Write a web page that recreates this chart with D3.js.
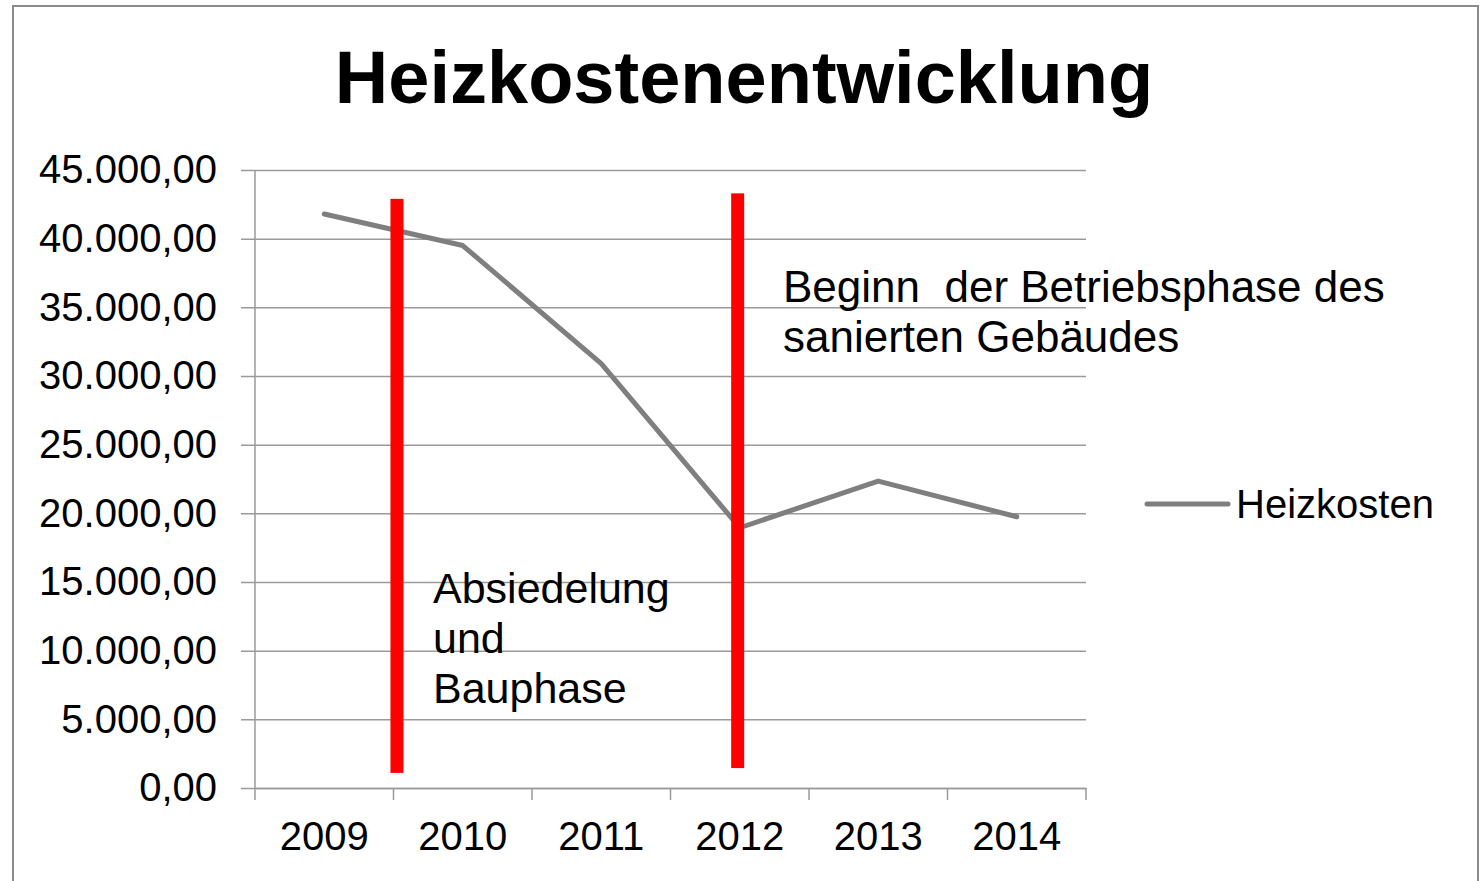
<!DOCTYPE html>
<html>
<head>
<meta charset="utf-8">
<script src="https://cdn.jsdelivr.net/npm/d3@7"></script>
<style>
  body { margin: 0; background: #fff; }
  text { font-family: "Liberation Sans", Arial, sans-serif; fill: #000; }
</style>
</head>
<body>
<svg id="chart" width="1480" height="881"></svg>
<script>
// chart data
const years = ["2009", "2010", "2011", "2012", "2013", "2014"];
const heizkosten = [41800, 39500, 30900, 18950, 22350, 19750];
const yTicks = [0, 5000, 10000, 15000, 20000, 25000, 30000, 35000, 40000, 45000];
const seriesName = "Heizkosten";
const title = "Heizkostenentwicklung";

// red phase markers: category + fraction of band, value range
const markerCats = ["2010", "2012"];
const markerFrac = [0.025, 0.485];
const markerTop = [42900, 43300];
const markerBottom = [1100, 1450];

const noteBetrieb = ["Beginn  der Betriebsphase des", "sanierten Gebäudes"];
const noteBau = ["Absiedelung", "und", "Bauphase"];

const svg = d3.select("#chart");

const plotL = 255, plotR = 1086, plotT = 170, plotB = 788;

const x = d3.scaleBand()
    .domain(years)
    .range([plotL, plotR]);

const y = d3.scaleLinear()
    .domain([0, 45000])
    .range([plotB, plotT]);

const de = d3.formatLocale({decimal: ",", thousands: ".", grouping: [3], currency: ["", " €"]});
const fmt = de.format(",.2f");

// frame
svg.append("rect")
    .attr("x", 13).attr("y", 6)
    .attr("width", 1465).attr("height", 900)
    .attr("fill", "none")
    .attr("stroke", "#8c8c8c")
    .attr("stroke-width", 2);

// title
svg.append("text")
    .attr("x", 744).attr("y", 103)
    .attr("text-anchor", "middle")
    .style("font-size", "74px")
    .style("font-weight", "bold")
    .text(title);

// y axis with gridlines
const yAxis = d3.axisLeft(y)
    .tickValues(yTicks)
    .tickSize(-(plotR - plotL))
    .tickPadding(0)
    .tickFormat(fmt);

const gy = svg.append("g")
    .attr("transform", `translate(${plotL},0)`)
    .call(yAxis);
gy.select(".domain").remove();
gy.selectAll(".tick line")
    .attr("x1", -14)
    .attr("stroke", "#9a9a9a")
    .attr("stroke-width", 1.5);
gy.selectAll(".tick text")
    .attr("x", -38)
    .attr("dy", "0.32em")
    .style("font-size", "40px")
    .style("font-family", "'Liberation Sans', Arial, sans-serif")
    .attr("fill", "#000");

svg.append("line")
    .attr("x1", plotL).attr("x2", plotL)
    .attr("y1", plotT).attr("y2", plotB)
    .attr("stroke", "#9a9a9a")
    .attr("stroke-width", 1.5);

// x axis
const xAxis = d3.axisBottom(x)
    .tickSize(0)
    .tickPadding(34);

const gx = svg.append("g")
    .attr("transform", `translate(0,${plotB})`)
    .call(xAxis);
gx.select(".domain")
    .attr("stroke", "#9a9a9a")
    .attr("stroke-width", 1.5);
gx.selectAll(".tick text")
    .style("font-size", "40px")
    .style("font-family", "'Liberation Sans', Arial, sans-serif")
    .attr("fill", "#000");

// category boundary ticks
const bounds = years.map(d => x(d)).concat([x(years[years.length - 1]) + x.bandwidth()]);
gx.selectAll(".bound")
    .data(bounds)
    .join("line")
    .attr("class", "bound")
    .attr("x1", d => d).attr("x2", d => d)
    .attr("y1", 0).attr("y2", 12)
    .attr("stroke", "#9a9a9a")
    .attr("stroke-width", 1.5);

// series line
const line = d3.line()
    .x((d, i) => x(years[i]) + x.bandwidth() / 2)
    .y(d => y(d));

svg.append("path")
    .datum(heizkosten)
    .attr("d", line)
    .attr("fill", "none")
    .attr("stroke", "#7f7f7f")
    .attr("stroke-width", 5)
    .attr("stroke-linecap", "round")
    .attr("stroke-linejoin", "round");

// red markers
svg.selectAll(".marker")
    .data(markerCats)
    .join("rect")
    .attr("class", "marker")
    .attr("x", (d, i) => x(d) + x.bandwidth() * markerFrac[i] - 6.5)
    .attr("width", 13)
    .attr("y", (d, i) => y(markerTop[i]))
    .attr("height", (d, i) => y(markerBottom[i]) - y(markerTop[i]))
    .attr("fill", "#ff0000");

// annotations
svg.append("text")
    .attr("x", 783).attr("y", 302)
    .attr("xml:space", "preserve")
    .style("font-size", "44px")
    .style("white-space", "pre")
    .selectAll("tspan")
    .data(noteBetrieb)
    .join("tspan")
    .attr("x", 783)
    .attr("dy", (d, i) => i === 0 ? 0 : 50)
    .text(d => d);

svg.append("text")
    .attr("x", 433).attr("y", 603)
    .style("font-size", "43px")
    .selectAll("tspan")
    .data(noteBau)
    .join("tspan")
    .attr("x", 433)
    .attr("dy", (d, i) => i === 0 ? 0 : 50)
    .text(d => d);

// legend
const legend = svg.append("g").attr("transform", "translate(1147,504)");
legend.append("line")
    .attr("x1", 0).attr("x2", 81)
    .attr("stroke", "#7f7f7f")
    .attr("stroke-width", 5)
    .attr("stroke-linecap", "round");
legend.append("text")
    .attr("x", 89).attr("y", 14)
    .style("font-size", "40px")
    .text(seriesName);
</script>
</body>
</html>
